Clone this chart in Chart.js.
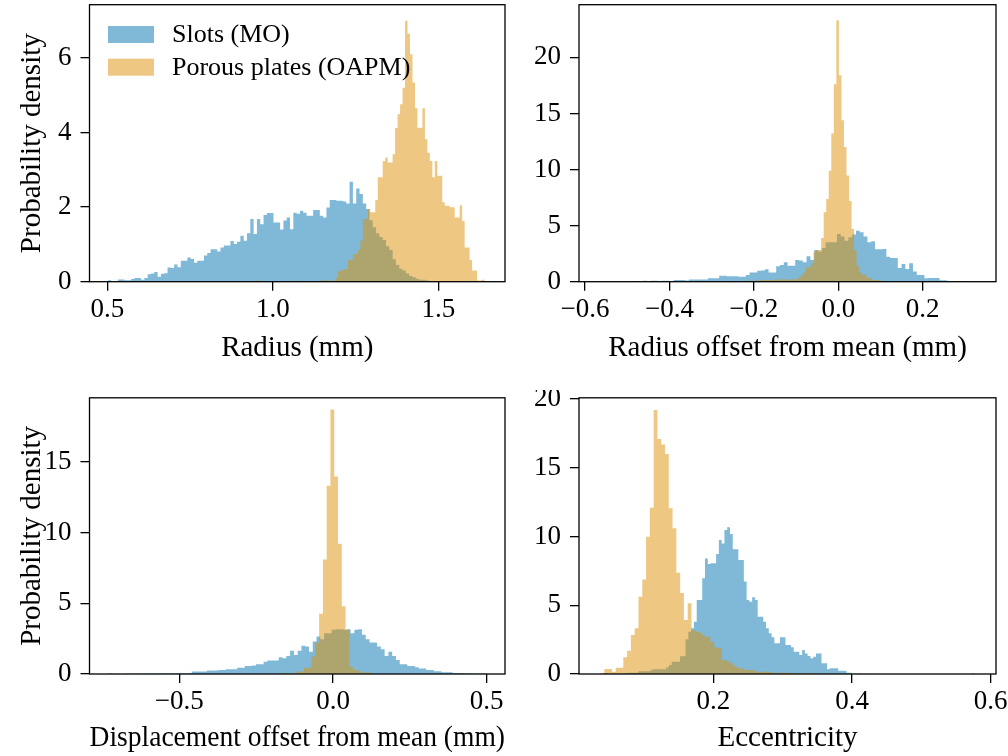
<!DOCTYPE html>
<html>
<head>
<meta charset="utf-8">
<script src="https://cdn.jsdelivr.net/npm/chart.js@4.4.0/dist/chart.umd.min.js"></script>
<style>
  html, body { margin: 0; padding: 0; background: #fff; }
  #fig { position: relative; width: 1008px; height: 756px; overflow: hidden; }
  #fig canvas { position: absolute; }
</style>
</head>
<body>
<div id="fig">
  <canvas id="radius" width="508" height="390" style="left:0;top:0"></canvas>
  <canvas id="offset" width="500" height="390" style="left:508px;top:0"></canvas>
  <canvas id="displacement" width="508" height="366" style="left:0;top:390px"></canvas>
  <canvas id="ecc" width="500" height="366" style="left:508px;top:390px"></canvas>
</div>
<script>
// histogram densities, one value per bin; bins = [first edge, bin width]
const seriesLabels = ['Slots (MO)', 'Porous plates (OAPM)'];

const radiusSlotsBins = [0.502, 0.01];
const radiusSlots = [
  0.04, 0.01, 0.01, 0.06, 0.06, 0.04, 0.04, 0.07, 0.1, 0.1,
  0.05, 0.1, 0.2, 0.22, 0.26, 0.13, 0.21, 0.23, 0.38, 0.37,
  0.46, 0.39, 0.56, 0.56, 0.65, 0.61, 0.51, 0.56, 0.56, 0.7,
  0.77, 0.87, 0.87, 0.81, 0.92, 0.97, 0.97, 1.09, 1.01, 1.07,
  1.23, 1.1, 1.3, 1.68, 1.28, 1.68, 1.54, 1.79, 1.84, 1.84,
  1.59, 1.59, 1.4, 1.64, 1.72, 1.41, 1.85, 1.82, 1.9, 1.85,
  1.77, 1.77, 1.92, 1.92, 1.77, 1.72, 1.99, 2.19, 2.19, 2.17,
  2.17, 2.15, 2.1, 2.68, 2.1, 2.5, 2.35, 2.1, 1.95, 1.65,
  1.46, 1.3, 1.2, 1.12, 0.95, 0.85, 0.6, 0.45, 0.35, 0.3,
  0.22, 0.15, 0.12, 0.08, 0.05, 0.05, 0.03, 0.01, 0, 0.01
];
const radiusPlatesBins = [0.897, 0.0075];
const radiusPlates = [
  0, 0, 0, 0, 0, 0, 0, 0.03, 0, 0,
  0, 0, 0, 0, 0, 0, 0, 0, 0, 0,
  0, 0, 0, 0.03, 0, 0, 0, 0, 0, 0,
  0, 0, 0, 0.04, 0.04, 0.03, 0.03, 0.03, 0, 0.1,
  0.28, 0.3, 0.34, 0.34, 0.58, 0.58, 0.74, 0.74, 0.85, 1.1,
  1.68, 1.68, 1.95, 1.86, 1.86, 2.19, 2.8, 2.8, 3.24, 3.33,
  3.2, 3.2, 3.42, 4.12, 4.49, 4.76, 5.2, 7.0, 6.65, 6.1,
  5.34, 4.65, 4.13, 4.13, 4.65, 3.82, 3.46, 3.24, 2.8, 3.24,
  2.84, 2.84, 2.13, 2.04, 2.04, 2.0, 2.0, 1.72, 1.72, 2.05,
  1.63, 0.92, 0.92, 0.58, 0.3, 0.3, 0.03, 0.03, 0.05, 0
];

const offsetSlotsBins = [-0.57, 0.009];
const offsetSlots = [
  0.02, 0, 0, 0, 0, 0, 0, 0.02, 0, 0.03,
  0.05, 0.06, 0.09, 0.06, 0.09, 0.09, 0.06, 0.09, 0.09, 0.06,
  0.15, 0.15, 0.15, 0.1, 0.2, 0.2, 0.2, 0.2, 0.2, 0.3,
  0.3, 0.3, 0.54, 0.54, 0.48, 0.48, 0.48, 0.45, 0.45, 0.6,
  0.83, 0.83, 0.98, 1.0, 1.1, 0.83, 0.83, 1.37, 1.49, 1.73,
  1.43, 1.43, 1.93, 1.88, 1.73, 2.26, 1.93, 2.83, 2.7, 3.0,
  3.51, 3.51, 3.51, 4.26, 4.02, 3.66, 3.96, 4.2, 4.55, 4.4,
  4.02, 3.51, 3.6, 2.89, 2.89, 2.92, 2.23, 2.11, 2.11, 1.22,
  1.58, 1.13, 1.64, 0.9, 0.6, 0.6, 0.3, 0.33, 0.33, 0.33,
  0.12, 0.12, 0.06, 0.06, 0.06, 0.03, 0.06, 0.03, 0.02, 0.01
];
const offsetPlatesBins = [-0.4845, 0.006];
const offsetPlates = [
  0, 0, 0, 0, 0, 0, 0, 0, 0, 0,
  0.03, 0, 0, 0, 0, 0, 0, 0, 0, 0,
  0, 0, 0, 0, 0, 0.03, 0, 0, 0, 0,
  0, 0, 0, 0, 0, 0, 0, 0, 0, 0,
  0.05, 0, 0.05, 0.05, 0.05, 0.1, 0.05, 0.1, 0.1, 0.1,
  0.15, 0.15, 0.15, 0.15, 0.15, 0.15, 0.2, 0.2, 0.2, 0.2,
  0.2, 0.2, 0.2, 0.2, 0.25, 0.39, 0.6, 0.83, 1.28, 1.28,
  1.67, 2.62, 2.83, 2.83, 3.9, 6.19, 7.38, 9.9, 13.2, 17.6,
  23.3, 18.4, 14.4, 12.0, 9.46, 7.2, 4.7, 2.77, 1.43, 0.83,
  0.63, 0.63, 0.33, 0.33, 0.15, 0.15, 0.15, 0.1, 0.05, 0.05
];

const displacementSlotsBins = [-0.73, 0.0123];
const displacementSlots = [
  0.03, 0, 0.02, 0, 0.02, 0.02, 0.03, 0.02, 0.03, 0.03,
  0.04, 0.03, 0.03, 0.04, 0.03, 0.04, 0.05, 0.04, 0.05, 0.05,
  0.05, 0.05, 0.17, 0.17, 0.17, 0.17, 0.24, 0.24, 0.24, 0.28,
  0.28, 0.33, 0.33, 0.33, 0.45, 0.45, 0.57, 0.57, 0.6, 0.69,
  0.69, 0.87, 0.95, 0.95, 0.95, 1.18, 1.11, 1.28, 1.65, 1.35,
  1.65, 1.99, 1.94, 1.58, 2.29, 2.65, 2.46, 2.88, 2.88, 3.12,
  3.17, 3.17, 3.12, 3.17, 2.88, 3.12, 3.17, 2.77, 2.46, 2.22,
  2.22, 1.94, 1.75, 1.28, 1.58, 1.28, 0.99, 0.69, 0.69, 0.57,
  0.57, 0.47, 0.38, 0.38, 0.28, 0.28, 0.19, 0.19, 0.12, 0.12,
  0.12, 0.07, 0.07, 0.07, 0.03, 0.03, 0.03, 0.02, 0.02, 0.02
];
const displacementPlatesBins = [-0.734, 0.0123];
const displacementPlates = [
  0.03, 0, 0, 0, 0, 0, 0, 0, 0, 0,
  0, 0, 0, 0, 0, 0, 0, 0, 0, 0,
  0, 0, 0, 0, 0, 0, 0, 0, 0, 0,
  0, 0, 0, 0, 0, 0, 0, 0, 0, 0,
  0, 0, 0, 0, 0, 0.05, 0.05, 0.05, 0.05, 0.05,
  0.17, 0.17, 0.45, 0.45, 1.23, 2.22, 4.26, 8.1, 13.3, 18.7,
  13.95, 9.2, 4.78, 3.12, 0.52, 0.3, 0.24, 0.1, 0.1, 0.1,
  0, 0, 0, 0, 0, 0, 0, 0, 0, 0,
  0, 0, 0, 0, 0, 0, 0, 0, 0, 0,
  0, 0, 0, 0, 0, 0, 0, 0, 0, 0.03
];

const eccSlotsBins = [0.04, 0.004];
const eccSlots = [
  0.05, 0.05, 0, 0.03, 0.03, 0.02, 0.03, 0.03, 0.05, 0.1,
  0.1, 0.1, 0.1, 0.2, 0.2, 0.2, 0.2, 0.25, 0.34, 0.34,
  0.34, 0.34, 0.34, 0.5, 0.65, 0.9, 0.9, 0.9, 1.3, 1.3,
  2.52, 3.08, 3.32, 3.8, 5.38, 5.38, 6.96, 8.41, 8.0, 8.05,
  8.05, 8.73, 9.75, 9.5, 10.47, 10.67, 10.18, 9.07, 9.07, 8.29,
  8.29, 6.72, 5.38, 5.26, 5.58, 5.38, 4.17, 4.17, 3.8, 3.32,
  2.96, 2.67, 2.23, 2.23, 2.67, 2.67, 2.11, 2.11, 1.94, 1.62,
  1.62, 1.38, 1.75, 1.5, 1.31, 1.14, 1.26, 1.5, 1.5, 0.78,
  0.78, 0.34, 0.41, 0.41, 0.41, 0.24, 0.24, 0.24, 0.1, 0.1,
  0.02, 0.02, 0.01, 0, 0, 0.01, 0, 0, 0, 0.01
];
const eccPlatesBins = [0.032, 0.00546];
const eccPlates = [
  0, 0.05, 0.36, 0.36, 0.17, 0.46, 0.46, 1.21, 1.7, 2.84,
  3.32, 5.62, 6.88, 9.99, 12.1, 19.2, 17.1, 16.7, 16.0, 12.05,
  10.6, 7.37, 5.9, 3.93, 5.14, 3.2, 3.08, 2.96, 2.76, 2.67,
  2.35, 1.94, 1.87, 1.02, 0.97, 0.78, 0.58, 0.41, 0.41, 0.29,
  0.29, 0.29, 0.17, 0.17, 0.17, 0.17, 0.1, 0.1, 0.1, 0.1,
  0.1, 0.05, 0.05, 0.05, 0.05, 0.05, 0.03, 0.03, 0.03, 0.03,
  0.02, 0.02, 0.02, 0, 0.02, 0, 0.02, 0, 0, 0.02,
  0, 0, 0.02, 0, 0, 0, 0, 0, 0, 0,
  0, 0, 0, 0, 0, 0, 0, 0, 0, 0,
  0, 0, 0, 0, 0, 0, 0, 0, 0, 0.05
];

// axis ticks
const radiusTicks = [0.5, 1.0, 1.5];
const offsetTicks = [-0.6, -0.4, -0.2, 0.0, 0.2];
const displacementTicks = [-0.5, 0.0, 0.5];
const eccTicks = [0.2, 0.4, 0.6];
const radiusDensityTicks = [0, 2, 4, 6];
const offsetDensityTicks = [0, 5, 10, 15, 20];
const displacementDensityTicks = [0, 5, 10, 15];
const eccDensityTicks = [0, 5, 10, 15, 20];

const BLUE = 'rgba(1,115,178,0.5)';
const ORANGE = 'rgba(222,143,5,0.5)';
const FONT = 27;
const TITLE_FONT = 29;

Chart.defaults.font.family = "'Liberation Serif', 'Times New Roman', serif";
Chart.defaults.font.size = FONT;
Chart.defaults.color = '#000';

// stepped outline: each bin holds its height until the next edge
function steps(bins, heights) {
  const pts = heights.map((h, i) => ({ x: bins[0] + i * bins[1], y: h }));
  pts.push({ x: bins[0] + heights.length * bins[1], y: 0 });
  return pts;
}

const fmtX = v => (v < 0 ? '\u2212' : '') + Math.abs(v).toFixed(1);

// black box around the plot area, like matplotlib spines
const frame = {
  id: 'frame',
  afterDatasetsDraw(chart) {
    const { ctx, chartArea: a } = chart;
    ctx.save();
    ctx.strokeStyle = '#000';
    ctx.lineWidth = 1.3;
    ctx.strokeRect(a.left, a.top, a.right - a.left, a.bottom - a.top);
    ctx.restore();
  }
};

// legend drawn inside the axes, no frame
const insetLegend = {
  id: 'insetLegend',
  afterDatasetsDraw(chart, args, opts) {
    if (!opts.show) return;
    const ctx = chart.ctx;
    ctx.save();
    chart.data.datasets.forEach((ds, i) => {
      const y = opts.top + i * opts.rowGap;
      ctx.fillStyle = ds.backgroundColor;
      ctx.fillRect(opts.left, y, opts.boxW, opts.boxH);
      ctx.fillStyle = '#000';
      ctx.font = opts.fontSize + "px 'Liberation Serif', serif";
      ctx.textBaseline = 'middle';
      ctx.textAlign = 'left';
      ctx.fillText(ds.label, opts.textX, y + opts.boxH / 2 + 1);
    });
    ctx.restore();
  }
};

function makeChart(id, cfg) {
  const datasets = [
    { label: seriesLabels[0], data: steps(cfg.slotsBins, cfg.slots), backgroundColor: BLUE, order: 1 },
    { label: seriesLabels[1], data: steps(cfg.platesBins, cfg.plates), backgroundColor: ORANGE, order: 0 }
  ].map(d => Object.assign(d, {
    stepped: true,
    fill: 'origin',
    borderColor: 'rgba(0,0,0,0)',
    borderWidth: 0,
    pointRadius: 0
  }));

  return new Chart(document.getElementById(id), {
    type: 'line',
    data: { datasets },
    plugins: [frame, insetLegend],
    options: {
      responsive: false,
      animation: false,
      devicePixelRatio: 1,
      events: [],
      layout: { padding: { top: cfg.padTop, right: cfg.padRight, left: 0, bottom: 0 } },
      plugins: {
        legend: { display: false },
        tooltip: { enabled: false },
        insetLegend: cfg.legend || { show: false }
      },
      scales: {
        x: {
          type: 'linear',
          min: cfg.xRange[0],
          max: cfg.xRange[1],
          afterFit: s => { s.height = cfg.xAxisHeight; s.paddingLeft = 0; s.paddingRight = 0; },
          afterBuildTicks: s => { s.ticks = cfg.xTicks.map(v => ({ value: v })); },
          ticks: { callback: v => fmtX(v), padding: 3, autoSkip: false, maxRotation: 0, color: '#000' },
          grid: { drawOnChartArea: false, tickLength: 9, color: '#000', lineWidth: 1.3 },
          border: { display: false },
          title: { display: true, text: cfg.xTitle, color: '#000', font: { size: TITLE_FONT }, padding: { top: 0, bottom: cfg.xTitlePad } }
        },
        y: {
          min: 0,
          max: cfg.yMax,
          afterFit: s => { s.width = cfg.yAxisWidth; s.paddingTop = 0; s.paddingBottom = 0; },
          afterBuildTicks: s => { s.ticks = cfg.yTicks.map(v => ({ value: v })); },
          ticks: { callback: v => String(v), padding: 9, color: '#000' },
          grid: { drawOnChartArea: false, tickLength: 9, color: '#000', lineWidth: 1.3 },
          border: { display: false },
          title: { display: !!cfg.yTitle, text: cfg.yTitle || '', color: '#000', font: { size: TITLE_FONT }, padding: { top: 14.8, bottom: 0 } }
        }
      }
    }
  });
}

makeChart('radius', {
  slots: radiusSlots, slotsBins: radiusSlotsBins,
  plates: radiusPlates, platesBins: radiusPlatesBins,
  xRange: [0.4462, 1.7015], xTicks: radiusTicks,
  yMax: 7.43, yTicks: radiusDensityTicks,
  xTitle: 'Radius (mm)', yTitle: 'Probability density',
  padTop: 4.7, padRight: 3, xAxisHeight: 108.3, yAxisWidth: 89.5, xTitlePad: 24.6,
  legend: { show: true, left: 108, top: 26, boxW: 46, boxH: 17, rowGap: 32.7, textX: 172, fontSize: 26 }
});

makeChart('offset', {
  slots: offsetSlots, slotsBins: offsetSlotsBins,
  plates: offsetPlates, platesBins: offsetPlatesBins,
  xRange: [-0.6142, 0.3737], xTicks: offsetTicks,
  yMax: 24.69, yTicks: offsetDensityTicks,
  xTitle: 'Radius offset from mean (mm)',
  padTop: 4.7, padRight: 12, xAxisHeight: 108.3, yAxisWidth: 71, xTitlePad: 24.6
});

makeChart('displacement', {
  slots: displacementSlots, slotsBins: displacementSlotsBins,
  plates: displacementPlates, platesBins: displacementPlatesBins,
  xRange: [-0.7921, 0.5595], xTicks: displacementTicks,
  yMax: 19.52, yTicks: displacementDensityTicks,
  xTitle: 'Displacement offset from mean (mm)', yTitle: 'Probability density',
  padTop: 7.8, padRight: 3, xAxisHeight: 82, yAxisWidth: 89.5, xTitlePad: 0
});

makeChart('ecc', {
  slots: eccSlots, slotsBins: eccSlotsBins,
  plates: eccPlates, platesBins: eccPlatesBins,
  xRange: [0.0063, 0.6076], xTicks: eccTicks,
  yMax: 20.09, yTicks: eccDensityTicks,
  xTitle: 'Eccentricity',
  padTop: 7.8, padRight: 12, xAxisHeight: 82, yAxisWidth: 71, xTitlePad: 0
});
</script>
</body>
</html>
